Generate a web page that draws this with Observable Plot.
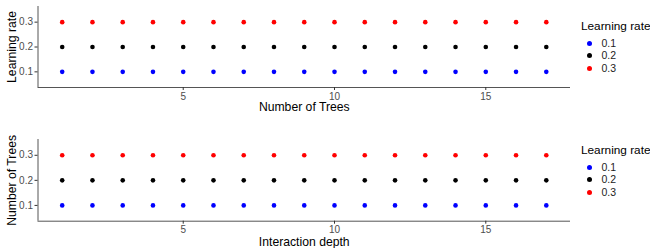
<!DOCTYPE html>
<html>
<head>
<meta charset="utf-8">
<script src="https://cdn.jsdelivr.net/npm/d3@7"></script>
<script src="https://cdn.jsdelivr.net/npm/@observablehq/plot@0.6"></script>
<style>
  html, body { margin: 0; padding: 0; background: #fff; }
  body { width: 650px; height: 248px; position: relative; overflow: hidden; font-family: "Liberation Sans", Arial, sans-serif; }
  .panel { position: relative; width: 650px; height: 124px; }
  .legend { position: absolute; left: 581px; font-size: 11.8px; color: #000; white-space: nowrap; }
  .legend .title { margin-bottom: 4px; }
  .legend .item { position: relative; height: 12.4px; line-height: 12.4px; font-size: 10.5px; color: #222; }
  .legend .item span.dot { position: absolute; left: 5.5px; top: 4px; width: 5px; height: 5px; border-radius: 50%; }
  .legend .item span.lab { position: absolute; left: 20.5px; top: 0; }
</style>
</head>
<body>
<div id="p1" class="panel"></div>
<div id="p2" class="panel"></div>
<script>
// ---- data ----
const xValues = [1, 2, 3, 4, 5, 6, 7, 8, 9, 10, 11, 12, 13, 14, 15, 16, 17];
const learningRates = [0.1, 0.2, 0.3];
const rateLabels = ["0.1", "0.2", "0.3"];
const rateColors = ["#0000ff", "#000000", "#ff0000"];
const xTicks = [5, 10, 15];
const yTicks = [0.1, 0.2, 0.3];
const panels = [
  { id: "p1", xTitle: "Number of Trees", yTitle: "Learning rate", legendTitle: "Learning rate" },
  { id: "p2", xTitle: "Interaction depth", yTitle: "Number of Trees", legendTitle: "Learning rate" }
];

const points = [];
for (const r of learningRates) for (const x of xValues) points.push({ x, rate: r, key: rateLabels[learningRates.indexOf(r)] });

const xDomain = [0.2, 17.8];
const yDomain = [0.037, 0.363];

const layouts = [
  { marginTop: 6, marginBottom: 37, xTitleDy: 20, legendTop: 19 },
  { marginTop: 15, marginBottom: 27.3, xTitleDy: 21, legendTop: 19 }
];

panels.forEach((p, i) => {
  const L = layouts[i];
  const chart = Plot.plot({
    width: 650,
    height: 124,
    marginLeft: 37.5,
    marginRight: 80,
    marginTop: L.marginTop,
    marginBottom: L.marginBottom,
    style: { fontFamily: "Liberation Sans, Arial, sans-serif", background: "#fff", overflow: "visible" },
    x: { domain: xDomain },
    y: { domain: yDomain },
    color: { domain: rateLabels, range: rateColors },
    marks: [
      Plot.ruleX([xDomain[0]], { stroke: "#555", strokeWidth: 1 }),
      Plot.ruleY([yDomain[0]], { stroke: "#555", strokeWidth: 1 }),
      Plot.axisX({ ticks: xTicks, tickSize: 3, tickPadding: 2, fontSize: 10, color: "#4d4d4d", stroke: "#333", label: null }),
      Plot.axisY({ ticks: yTicks, tickFormat: ".1f", tickSize: 3, tickPadding: 2, fontSize: 10, color: "#4d4d4d", stroke: "#333", label: null }),
      Plot.dot(points, { x: "x", y: "rate", fill: "key", r: 2.3, stroke: null }),
      Plot.text([p.xTitle], { frameAnchor: "bottom", dy: L.xTitleDy, lineAnchor: "middle", fontSize: 12.2, fill: "#000" }),
      Plot.text([p.yTitle], { frameAnchor: "left", dx: -25.5, rotate: -90, lineAnchor: "middle", textAnchor: "middle", fontSize: 12.2, fill: "#000" })
    ]
  });
  const host = document.getElementById(p.id);
  host.appendChild(chart);
  const leg = document.createElement("div");
  leg.className = "legend";
  leg.style.top = L.legendTop + "px";
  const t = document.createElement("div");
  t.className = "title";
  t.textContent = p.legendTitle;
  leg.appendChild(t);
  rateLabels.forEach((lab, j) => {
    const it = document.createElement("div");
    it.className = "item";
    const d = document.createElement("span");
    d.className = "dot";
    d.style.background = rateColors[j];
    const s = document.createElement("span");
    s.className = "lab";
    s.textContent = lab;
    it.appendChild(d); it.appendChild(s);
    leg.appendChild(it);
  });
  host.appendChild(leg);
});
</script>
</body>
</html>
